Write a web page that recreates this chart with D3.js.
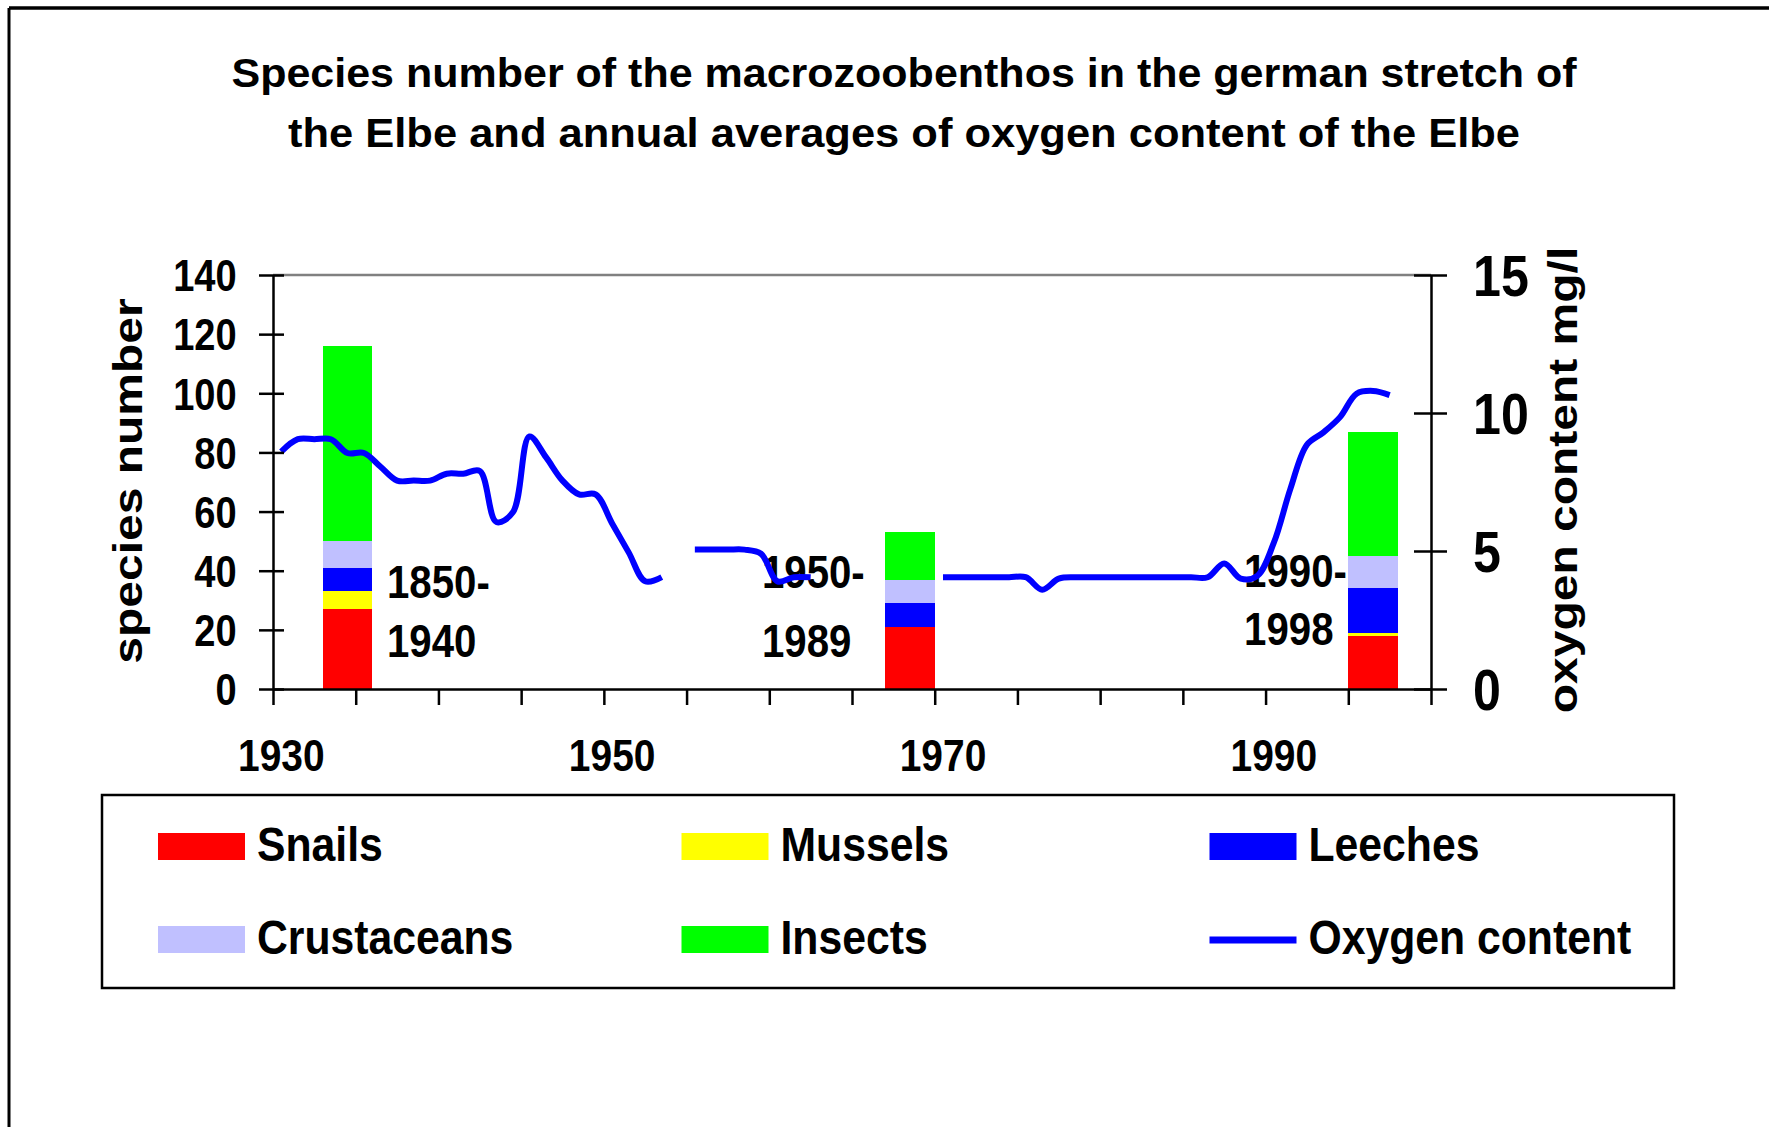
<!DOCTYPE html>
<html>
<head>
<meta charset="utf-8">
<script src="https://cdn.jsdelivr.net/npm/d3@7"></script>
<style>
  body { margin: 0; background: #fff; }
  svg { display: block; font-family: "Liberation Sans", Arial, sans-serif; font-weight: bold; }
</style>
</head>
<body>
<svg id="chart" width="1769" height="1127"></svg>
<script>
// Elbe macrozoobenthos chart
const years = d3.range(1930, 2000);
const yearLabels = [1930, 1950, 1970, 1990];

// oxygen content mg/l, annual averages (null = no data)
const oxygen = [
  8.6, 9.05, 9.05, 9.05, 8.55, 8.55, 8.05, 7.55, 7.55, 7.55,
  7.8, 7.8, 7.9, 6.05, 6.4, 9.15, 8.4, 7.55, 7.05, 7.05,
  6.0, 4.95, 3.9, 4.05, null, 5.05, 5.05, 5.05, 5.05, 4.9,
  3.9, 4.05, 4.05, null, null, null, null, null, null, null,
  4.05, 4.05, 4.05, 4.05, 4.05, 4.05, 3.6, 4.0, 4.05, 4.05,
  4.05, 4.05, 4.05, 4.05, 4.05, 4.05, 4.05, 4.55, 4.0, 4.1,
  5.3, 7.25, 8.85, 9.3, 9.85, 10.7, 10.8, 10.65, null, null
];

// species numbers per period
const periods = [['1850-', '1940'], ['1950-', '1989'], ['1990-', '1998']];
const barStart = [1933, 1967, 1995];
const BAR_SPAN = 3;
const snails = [27, 21, 18];
const mussels = [6, 0, 1];
const leeches = [8, 8, 15];
const crustaceans = [9, 8, 11];
const insects = [66, 16, 42];

const groups = ['Snails', 'Mussels', 'Leeches', 'Crustaceans', 'Insects'];
const colors = ['#ff0000', '#ffff00', '#0000ff', '#c0c0ff', '#00ff00'];
const leftTicks = d3.range(0, 141, 20);
const rightTicks = [0, 5, 10, 15];

const SX = 0.865;          // glyphs in the original are horizontally squeezed
const SX_LEGEND = 0.89;
const X0 = 273, X1 = 1431;
const Y0 = 689, Y1 = 275;

const svg = d3.select('#chart');

// outer frame (top and left edges visible)
svg.append('line').attr('x1', 9).attr('x2', 1769).attr('y1', 8).attr('y2', 8)
  .attr('stroke', '#000').attr('stroke-width', 3.5);
svg.append('line').attr('x1', 9).attr('x2', 9).attr('y1', 8).attr('y2', 1127)
  .attr('stroke', '#000').attr('stroke-width', 3);

// title
const titleLines = [
  { text: 'Species number of the macrozoobenthos in the german stretch of', y: 86.7, w: 1345 },
  { text: 'the Elbe and annual averages of oxygen content of the Elbe', y: 146.7, w: 1232 }
];
svg.selectAll('.title').data(titleLines).join('text')
  .attr('class', 'title')
  .attr('x', 904).attr('y', d => d.y)
  .attr('text-anchor', 'middle')
  .attr('font-size', 40)
  .attr('textLength', d => d.w)
  .attr('lengthAdjust', 'spacingAndGlyphs')
  .text(d => d.text);

// scales
const x = d3.scaleBand().domain(years).range([X0, X1]).padding(0);
const xYear = d3.scaleLinear().domain([1930, 2000]).range([X0, X1]);
const yL = d3.scaleLinear().domain([0, 140]).range([Y0, Y1]);
const yR = d3.scaleLinear().domain([0, 15]).range([Y0, Y1]);

// plot area top border
svg.append('line').attr('x1', X0).attr('x2', X1).attr('y1', Y1).attr('y2', Y1)
  .attr('stroke', '#808080').attr('stroke-width', 2.5);

// stacked bars
const barData = barStart.map((s, i) => ({
  start: s,
  Snails: snails[i], Mussels: mussels[i], Leeches: leeches[i],
  Crustaceans: crustaceans[i], Insects: insects[i]
}));
const stacked = d3.stack().keys(groups)(barData);

svg.append('g').selectAll('g').data(stacked).join('g')
  .attr('fill', (d, i) => colors[i])
  .selectAll('rect').data(d => d).join('rect')
  .attr('x', d => x(d.data.start))
  .attr('width', x.bandwidth() * BAR_SPAN)
  .attr('y', d => yL(d[1]))
  .attr('height', d => yL(d[0]) - yL(d[1]))
  .attr('shape-rendering', 'crispEdges');

// period labels next to the bars
const labelLayout = [
  { dx: 39.5, dy: [90.7, 32.3] },
  { dx: -148, dy: [100.7, 32.3] },
  { dx: -129, dy: [102.3, 44] }
];
periods.forEach((lines, i) => {
  const cx = x(barStart[i]) + x.bandwidth() * BAR_SPAN / 2 + labelLayout[i].dx;
  lines.forEach((t, j) => {
    svg.append('text')
      .attr('transform', `translate(${cx},${Y0 - labelLayout[i].dy[j]}) scale(${SX},1)`)
      .attr('font-size', 46.5)
      .text(t);
  });
});

// oxygen line
const line = d3.line()
  .defined(d => d.v != null)
  .x(d => x(d.year) + x.bandwidth() / 2)
  .y(d => yR(d.v))
  .curve(d3.curveCatmullRom.alpha(0.5));

svg.append('path')
  .datum(years.map((yr, i) => ({ year: yr, v: oxygen[i] })))
  .attr('fill', 'none')
  .attr('stroke', '#0000ff')
  .attr('stroke-width', 6)
  .attr('d', line);

// left axis
const gL = svg.append('g').attr('transform', `translate(${X0},0)`)
  .call(d3.axisLeft(yL).tickValues(leftTicks).tickSize(14).tickSizeOuter(0).tickPadding(0));
gL.select('.domain').attr('stroke', '#000').attr('stroke-width', 2.5);
gL.selectAll('.tick line').attr('x1', 11).attr('stroke-width', 2.5);
gL.selectAll('.tick text')
  .attr('x', -36.3 / SX).attr('dy', '0.36em')
  .attr('transform', `scale(${SX},1)`)
  .attr('font-size', 44).attr('fill', '#000');
gL.attr('font-family', null);

// right axis
const gR = svg.append('g').attr('transform', `translate(${X1},0)`)
  .call(d3.axisRight(yR).tickValues(rightTicks).tickSize(16).tickSizeOuter(0).tickPadding(0));
gR.select('.domain').attr('stroke', '#000').attr('stroke-width', 2.5);
gR.selectAll('.tick line').attr('x1', -17).attr('stroke-width', 2.5);
gR.selectAll('.tick text')
  .attr('x', 42 / SX).attr('dy', '0.36em')
  .attr('transform', `scale(${SX},1)`)
  .attr('font-size', 58).attr('fill', '#000');
gR.attr('font-family', null);

// bottom axis: ticks every 5 years on category boundaries
const gB = svg.append('g').attr('transform', `translate(0,${Y0})`)
  .call(d3.axisBottom(xYear).tickValues(d3.range(1930, 2001, 5)).tickFormat('').tickSize(16).tickSizeOuter(0));
gB.select('.domain').attr('stroke', '#000').attr('stroke-width', 2.5);
gB.selectAll('.tick line').attr('stroke-width', 2.5);

svg.selectAll('.xlabel').data(yearLabels).join('text')
  .attr('class', 'xlabel')
  .attr('transform', d => `translate(${x(d) + x.bandwidth() / 2},770.7) scale(${SX},1)`)
  .attr('text-anchor', 'middle')
  .attr('font-size', 45)
  .text(d => d);

// axis titles
svg.append('text')
  .attr('transform', `translate(142,481) scale(${SX},1) rotate(-90)`)
  .attr('text-anchor', 'middle')
  .attr('font-size', 48)
  .text('species number');

svg.append('text')
  .attr('transform', `translate(1577,480) scale(${SX},1) rotate(-90)`)
  .attr('text-anchor', 'middle')
  .attr('font-size', 48)
  .text('oxygen content mg/l');

// legend
const legend = svg.append('g');
legend.append('rect')
  .attr('x', 102).attr('y', 795).attr('width', 1572).attr('height', 193)
  .attr('fill', '#fff').attr('stroke', '#000').attr('stroke-width', 2.5);

const legendItems = groups.map((g, i) => ({ name: g, color: colors[i], type: 'box' }))
  .concat([{ name: 'Oxygen content', color: '#0000ff', type: 'line' }]);
const colX = [158, 681.5, 1209.5];
const rowY = [833, 926];

legendItems.forEach((d, i) => {
  const lx = colX[i % 3], ly = rowY[Math.floor(i / 3)];
  if (d.type === 'box') {
    legend.append('rect').attr('x', lx).attr('y', ly).attr('width', 87).attr('height', 27)
      .attr('fill', d.color);
  } else {
    legend.append('line').attr('x1', lx).attr('x2', lx + 87)
      .attr('y1', ly + 14).attr('y2', ly + 14)
      .attr('stroke', d.color).attr('stroke-width', 7);
  }
  legend.append('text')
    .attr('transform', `translate(${lx + 99},${ly + 27.5}) scale(${SX_LEGEND},1)`)
    .attr('font-size', 48)
    .text(d.name);
});
</script>
</body>
</html>
